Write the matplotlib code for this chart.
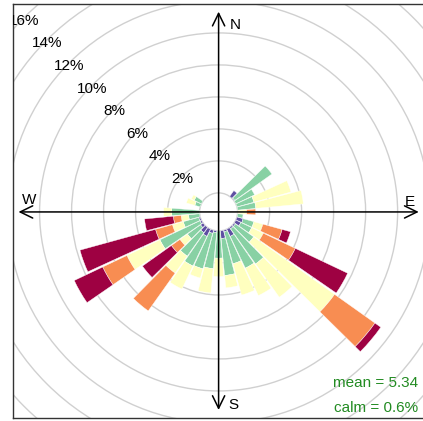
import numpy as np
import matplotlib.pyplot as plt
from matplotlib.patches import Wedge, Circle, FancyArrowPatch

plt.rcParams['font.family'] = ['Liberation Sans', 'DejaVu Sans']

directions = np.arange(10, 370, 10)
# frequency (%) in each wind speed band, one value per 10 degree sector (10..360)
ws_band1 = [0, 0, 0, .45, .05, 0, 0, 0, 0, 0, .4, .35, .1, .1, .5, .1, .48, 0,
            .1, .2, .5, .4, .2, .1, .1, 0, 0, 0, 0, 0, 0, 0, 0, 0, 0, 0]
ws_band2 = [0, 0, 0, 0, 2.85, 1.3, 1.1, 1.15, 0, .35, .7, .75, 1.4, 2.7, 2.2, 2.07, 2.32, 1.7,
            2.27, 2.3, 2.05, 1.8, 1.0, 2.77, 1.0, .7, 1.74, 0, .35, .5, 0, 0, 0, 0, 0, 0]
ws_band3 = [0, 0, 0, 0, 0, 0, 2.4, 2.98, .56, 0, .58, .8, 6.2, 2.55, 1.9, 2.03, .78, 1.15,
            1.53, .6, 1.6, 1.3, .57, 2.28, .7, .46, .51, 0, .55, .2, 0, 0, 0, 0, 0, 0]
ws_band4 = [0, 0, 0, 0, 0, 0, 0, 0, .57, 0, 1.25, 2.22, 3.1, 0, 0, 0, 0, 0,
            0, 0, 0, 2.9, .66, 1.68, 1.1, .49, 0, 0, 0, 0, 0, 0, 0, 0, 0, 0]
ws_band5 = [0, 0, 0, 0, 0, 0, 0, 0, 0, 0, .54, 3.62, .45, 0, 0, 0, 0, 0,
            0, 0, 0, 0, 2.22, 1.97, 4.9, 1.81, 0, 0, 0, 0, 0, 0, 0, 0, 0, 0]
bands = [ws_band1, ws_band2, ws_band3, ws_band4, ws_band5]
colours = ['#5E4FA2', '#88D1A4', '#FFFFBF', '#F88D52', '#9E0142']

grid_pct = [2, 4, 6, 8, 10, 12, 14, 16]
mean_ws = 5.34
calm = 0.6

offset = 1.19   # radius of the empty centre, in % units
half_w = 4.6    # half width of each sector wedge, degrees

fig = plt.figure(figsize=(4.23, 4.21), dpi=100)
ax = fig.add_axes([12.7 / 423, 2.7 / 421, 411.8 / 423, 414 / 421])
ax.set_xlim(-12.87, 12.87)
ax.set_ylim(-12.9, 12.98)
ax.set_xticks([])
ax.set_yticks([])
for sp in ax.spines.values():
    sp.set_color('#333333')
    sp.set_linewidth(1.0)

# grid circles
ax.add_patch(Circle((0, 0), offset, fill=False, ec='#D0D0D0', lw=1.0, zorder=1))
for p in grid_pct:
    ax.add_patch(Circle((0, 0), offset + p, fill=False, ec='#D0D0D0', lw=1.0, zorder=1))
    r = offset + p
    a = np.deg2rad(135)
    ax.text(r * np.cos(a), r * np.sin(a) - 0.2, f'{p}%', ha='center', va='center',
            fontsize=11, color='black', clip_on=True, zorder=4)

# stacked wedges
cum = np.zeros(len(directions))
for vals, col in zip(bands, colours):
    vals = np.array(vals)
    for d, base, v in zip(directions, cum, vals):
        if v <= 0:
            continue
        th = 90 - d
        ax.add_patch(Wedge((0, 0), offset + base + v, th - half_w, th + half_w, width=v,
                           fc=col, ec='white', lw=0.3, zorder=2))
    cum = cum + vals

# compass axes
ax.add_patch(FancyArrowPatch((0, -12.38), (0, 12.52), arrowstyle='<->,head_length=0.45,head_width=0.22',
                             mutation_scale=20, color='black', lw=1.1, shrinkA=0, shrinkB=0, zorder=3))
ax.add_patch(FancyArrowPatch((-12.51, 0), (12.51, 0), arrowstyle='<->,head_length=0.45,head_width=0.22',
                             mutation_scale=20, color='black', lw=1.1, shrinkA=0, shrinkB=0, zorder=3))
ax.text(1.03, 11.69, 'N', ha='center', va='center', fontsize=11)
ax.text(11.97, 0.64, 'E', ha='center', va='center', fontsize=11)
ax.text(0.95, -12.06, 'S', ha='center', va='center', fontsize=11)
ax.text(-11.83, 0.75, 'W', ha='center', va='center', fontsize=11)

ax.text(12.5, -10.71, f'mean = {mean_ws}', ha='right', va='center', fontsize=11, color='#228B22')
ax.text(12.5, -12.27, f'calm = {calm}%', ha='right', va='center', fontsize=11, color='#228B22')

fig.savefig('out.png', dpi=100)
